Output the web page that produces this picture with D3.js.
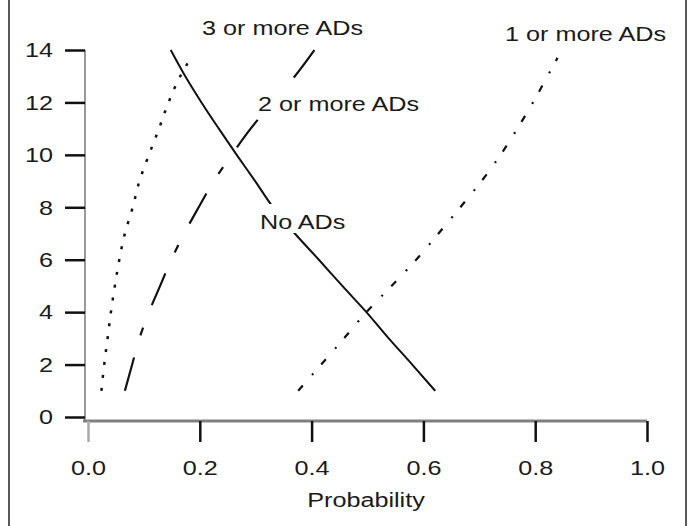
<!DOCTYPE html>
<html>
<head>
<meta charset="utf-8">
<style>
  body { margin: 0; background: #fff; }
  svg text { font-family: "Liberation Sans", Arial, sans-serif; font-size: 21px; fill: #1a1a1a; }
</style>
<script src="https://cdn.jsdelivr.net/npm/d3@7.9.0/dist/d3.min.js"></script>
</head>
<body>
<svg width="690" height="526"></svg>
<script>
// values: value on the y axis -> probability
const levels = [1, 2, 3, 4, 5, 6, 7, 8, 9, 10, 11, 12, 13, 14];
const levelsShort = [1, 2, 3, 4, 5, 6, 7, 8, 9, 10, 11, 12, 13, 13.7];
const noADs = [0.621, 0.580, 0.538, 0.498, 0.455, 0.413, 0.370, 0.331, 0.299, 0.266, 0.234, 0.203, 0.174, 0.148];
const onePlus = [0.376, 0.417, 0.458, 0.498, 0.543, 0.587, 0.627, 0.666, 0.704, 0.738, 0.768, 0.796, 0.822, 0.840];
const twoPlus = [0.066, 0.079, 0.092, 0.109, 0.129, 0.149, 0.172, 0.198, 0.225, 0.257, 0.291, 0.330, 0.370, 0.405];
const threePlus = [0.024, 0.029, 0.035, 0.041, 0.048, 0.056, 0.066, 0.080, 0.092, 0.109, 0.127, 0.144, 0.165, 0.184];

const xTicks = [0, 0.2, 0.4, 0.6, 0.8, 1.0];
const yTicks = [0, 2, 4, 6, 8, 10, 12, 14];

const series = [
  { name: 'No ADs', ys: levels, xs: noADs, dash: null, w: 2 },
  { name: '1 or more ADs', ys: levelsShort, xs: onePlus, dash: [7, 14, 2, 12], w: 2.2 },
  { name: '2 or more ADs', ys: levels, xs: twoPlus, dash: [33, 22, 8, 23], w: 2.2, fitEnd: true },
  { name: '3 or more ADs', ys: levelsShort, xs: threePlus, dash: [3, 10], w: 2.5 }
];

const svg = d3.select('svg');
const x = d3.scaleLinear().domain([0, 1]).range([88, 647]);
const y = d3.scaleLinear().domain([0, 14]).range([417, 50]);
const SX = 1.2; // the original lettering is a bit wide

// frame sides
[9, 686].forEach(fx => {
  svg.append('line').attr('x1', fx).attr('x2', fx).attr('y1', 0).attr('y2', 526)
    .attr('stroke', '#222').attr('stroke-width', 1.5);
});

// axis lines (grey)
svg.append('line').attr('x1', 85).attr('x2', 85).attr('y1', y(14)).attr('y2', 421)
  .attr('stroke', '#999').attr('stroke-width', 2);
svg.append('line').attr('x1', 83).attr('x2', x(1)).attr('y1', 421).attr('y2', 421)
  .attr('stroke', '#808080').attr('stroke-width', 3);

const yAxis = svg.append('g').attr('transform', 'translate(85,0)')
  .call(d3.axisLeft(y).tickValues(yTicks).tickSize(20).tickSizeOuter(0).tickPadding(12).tickFormat(d3.format('d')));
yAxis.select('.domain').remove();
yAxis.selectAll('.tick line').attr('stroke', '#111').attr('stroke-width', 2.5);
yAxis.selectAll('.tick text').attr('x', null).attr('transform', `translate(-32,0) scale(${SX},1)`)
  .attr('fill', '#1a1a1a');
yAxis.attr('font-size', null).attr('font-family', null);

const xAxis = svg.append('g').attr('transform', 'translate(0,421)')
  .call(d3.axisBottom(x).tickValues(xTicks).tickSize(21).tickPadding(18).tickFormat(d3.format('.1f')));
xAxis.select('.domain').remove();
xAxis.selectAll('.tick line').attr('stroke', (d) => d === 0 ? '#aaa' : '#111').attr('stroke-width', 2.5);
xAxis.selectAll('.tick text').attr('transform', `scale(${SX},1)`).attr('fill', '#1a1a1a');
xAxis.attr('font-size', null).attr('font-family', null);

// curves
const line = d3.line().x(d => x(d[0])).y(d => y(d[1])).curve(d3.curveMonotoneY);
series.forEach(s => {
  const pts = s.xs.map((v, i) => [v, s.ys[i]]);
  const p = svg.append('path').attr('d', line(pts)).attr('fill', 'none')
    .attr('stroke', '#111').attr('stroke-width', s.w);
  if (s.dash) {
    let dash = s.dash;
    if (s.fitEnd) {
      // stretch the pattern a little so the curve ends on a long dash, as in the original
      const L = p.node().getTotalLength();
      const period = d3.sum(dash);
      const n = Math.round((L - dash[0]) / period);
      const k = L / (n * period + dash[0]);
      dash = dash.map(d => d * k);
    }
    p.attr('stroke-dasharray', dash.join(','));
  }
});

function label(txt, lx, ly, anchor, knockout) {
  const t = svg.append('text').attr('transform', `translate(${lx},${ly}) scale(${SX},1)`)
    .attr('text-anchor', anchor).text(txt);
  if (knockout) {
    const b = t.node().getBBox();
    svg.insert('rect', () => t.node())
      .attr('x', lx + b.x * SX - 3).attr('width', b.width * SX + 6)
      .attr('y', ly - 25).attr('height', 29).attr('fill', '#fff');
  }
}

label('3 or more ADs', 202, 35, 'start', false);
label('1 or more ADs', 505, 41, 'start', false);
label('2 or more ADs', 258, 111, 'start', true);
label('No ADs', 260, 229, 'start', true);
label('Probability', 366, 507, 'middle', false);
</script>
</body>
</html>
